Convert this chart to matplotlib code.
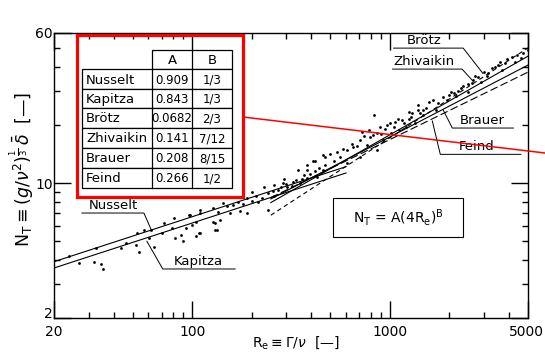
import matplotlib
matplotlib.use('Agg')
from matplotlib import pyplot as plt
from matplotlib.ticker import FixedLocator, NullFormatter
from matplotlib.patches import Rectangle
import matplotlib.transforms as mtransforms
import numpy as np

plt.rcParams['font.family'] = ['DejaVu Sans']
plt.rcParams['mathtext.fontset'] = 'dejavusans'

# correlations N_T = A (4 Re)^B
names = ['Nusselt', 'Kapitza', 'Brötz', 'Zhivaikin', 'Brauer', 'Feind']
coef_a = [0.909, 0.843, 0.0682, 0.141, 0.208, 0.266]
coef_b = [1/3, 1/3, 2/3, 7/12, 8/15, 1/2]
a_text = ['0.909', '0.843', '0.0682', '0.141', '0.208', '0.266']
b_text = ['1/3', '1/3', '2/3', '7/12', '8/15', '1/2']
re_start = [20, 20, 250, 250, 250, 250]
re_end = [600, 600, 5000, 5000, 5000, 5000]
styles = ['-', '-', (0, (4, 3)), '-', '-', (0, (7, 3))]

re_data = [23.8, 26.8, 32.6, 31.9, 34.6, 35.4, 43.6, 46.2, 52.0, 54, 52.6, 57, 60.4, 61.9,
           64, 72, 70, 78.9, 82, 87.5, 93, 96.7, 108, 110, 100, 81, 90, 105, 134, 130,
           97, 110, 127, 143, 127, 130, 139, 161, 190, 201, 216, 241, 230, 271, 289, 303,
           322, 352, 381, 410, 430, 461, 471, 381, 344, 241, 190, 135, 110, 105,
           150, 170, 180, 210, 225, 255, 260, 280, 300, 320, 335, 360, 370, 395, 420, 440,
           200, 175, 155, 260, 290,
           381, 420, 461, 471, 519, 561, 610, 610, 652, 707, 723, 765, 797, 860, 893, 925,
           968, 1010, 1061, 1116, 1155, 1204, 1283, 1335, 1395, 1474, 1520, 830, 707, 860,
           500, 540, 580, 640, 680, 740, 780, 820, 900, 950, 1000, 1050, 1100, 1180, 1250,
           1300, 1420, 1480,
           1248, 1395, 1580, 1720, 1860, 2100, 2280, 2480, 2640, 2800, 3000, 3300, 3540,
           3830, 4140, 4700, 5000, 2900, 2480, 1950, 3690, 4280, 3150,
           1650, 1750, 2000, 2200, 2350, 2600, 2700, 3100, 3400, 3600, 3900, 4400, 4600,
           2050, 2150]
nt_data = [4.19, 3.86, 4.61, 3.90, 3.81, 3.59, 4.61, 4.88, 4.78, 4.38, 5.52, 5.71, 5.20, 5.71,
           4.67, 6.21, 5.52, 5.85, 5.20, 5.39, 5.85, 6.83, 5.52, 7.24, 6.06, 6.57, 5.0, 5.3, 5.7, 6.2,
           6.83, 7.0, 7.43, 7.9, 6.3, 5.71, 6.43, 7.7, 8.36, 9.0, 7.97, 8.9, 9.56, 9.22, 10.0, 9.56,
           10.1, 10.0, 10.6, 13.1, 10.8, 11.7, 13.6, 12.4, 11.7, 7.24, 7.0, 7.1, 5.52, 6.3,
           7.6, 8.0, 7.8, 8.6, 8.4, 9.1, 8.6, 9.6, 9.9, 9.7, 10.4, 10.5, 11.0, 11.2, 11.5, 12.0,
           8.1, 7.2, 7.0, 9.8, 10.5,
           11.7, 13.1, 14.0, 12.4, 13.1, 13.6, 14.9, 12.7, 15.4, 16.7, 18.4, 15.7, 17.3, 18.2, 19.5, 16.7,
           20.0, 18.2, 20.7, 18.9, 21.2, 19.5, 22.0, 20.6, 24.0, 22.6, 24.6, 22.6, 13.6, 14.9,
           14.2, 14.5, 15.0, 16.0, 15.5, 17.5, 18.8, 17.8, 18.0, 19.0, 20.5, 19.5, 21.5, 20.6, 21.5,
           23.0, 23.2, 24.0,
           23.3, 25.3, 26.2, 24.0, 27.9, 29.2, 31.3, 32.8, 34.1, 35.5, 37.6, 39.4, 40.8,
           41.9, 45.0, 47.2, 48.8, 33.4, 29.7, 26.9, 38.5, 42.4, 37.2,
           27.0, 26.0, 28.5, 30.0, 32.0, 33.0, 36.0, 36.0, 40.0, 42.5, 44.0, 46.0, 44.5,
           29.8, 28.2]

x_ticks = [20, 100, 1000, 5000]
y_ticks = [2, 10, 60]

fig = plt.figure(figsize=(5.45, 3.58), dpi=100)
ax = fig.add_axes([54/545, 40/358, 474/545, 285/358])
ax.set_xscale('log')
ax.set_yscale('log')
ax.set_xlim(20, 5000)
ax.set_ylim(2, 60)

for a, b, r0, r1, ls in zip(coef_a, coef_b, re_start, re_end, styles):
    re = np.geomspace(r0, r1, 50)
    ax.plot(re, a * (4 * re) ** b, color='black', lw=0.8, ls=ls)

ax.scatter(re_data, nt_data, s=4, color='black', lw=0, zorder=3)

ax.xaxis.set_major_locator(FixedLocator(x_ticks))
ax.set_xticklabels([str(t) for t in x_ticks])
ax.xaxis.set_minor_locator(FixedLocator([30, 40, 50, 60, 70, 80, 90, 200, 300, 400, 500,
                                         600, 700, 800, 900, 2000, 3000, 4000]))
ax.xaxis.set_minor_formatter(NullFormatter())
ax.yaxis.set_major_locator(FixedLocator(y_ticks))
ax.set_yticklabels([str(t) for t in y_ticks])
ax.yaxis.set_minor_locator(FixedLocator([3, 4, 5, 6, 7, 8, 9, 20, 30, 40, 50]))
ax.yaxis.set_minor_formatter(NullFormatter())
ax.tick_params(which='both', direction='in', top=True, right=True, width=1)
ax.tick_params(which='major', length=12, labelsize=10)
ax.tick_params(which='minor', length=4)
ax.tick_params(axis='x', which='major', pad=5)
ax.tick_params(axis='y', which='major', pad=1)
for s in ax.spines.values():
    s.set_linewidth(1.0)

# nudge the corner labels like the original
lab2 = ax.get_yticklabels()[0]
lab2.set_transform(lab2.get_transform() + mtransforms.ScaledTranslation(0, 5/100, fig.dpi_scale_trans))
lab5k = ax.get_xticklabels()[-1]
lab5k.set_transform(lab5k.get_transform() + mtransforms.ScaledTranslation(-2/100, 0, fig.dpi_scale_trans))

ax.set_xlabel(r'$\mathrm{R_e} \equiv \Gamma/\nu$  [—]', fontsize=10, va='center')
ax.xaxis.set_label_coords(0.51, -0.088)
ax.set_ylabel(r'$\mathrm{N_T} \equiv (g/\nu^2)^{\frac{1}{3}}\,\bar{\delta}$  [—]', fontsize=12.5, va='center')
ax.yaxis.set_label_coords(-0.068, 0.52)

# curve labels with leader lines
def tag(text, tx, ty, line_x, line_y):
    ax.text(tx, ty, text, fontsize=9.5, ha='center', va='bottom')
    ax.plot(line_x, line_y, color='black', lw=0.7)

tag('Nusselt', 40, 7.1, [27.7, 57, 62], [7.0, 7.0, 5.75])
tag('Kapitza', 108, 3.65, [165, 71, 59], [3.59, 3.59, 5.0])
tag('Brötz', 1490, 50.8, [1044, 2350, 2960], [50.1, 50.1, 37.0])
tag('Zhivaikin', 1490, 39.6, [1032, 2320, 2620], [39.0, 39.0, 34.0])
tag('Brauer', 2950, 19.6, [4220, 2070, 1860], [19.3, 19.3, 24.0])
tag('Feind', 2750, 14.3, [4600, 1800, 1640], [14.1, 14.1, 21.0])

# overlay in pixel coordinates for the formula box, table and red marks
ov = fig.add_axes([0, 0, 1, 1], zorder=5)
ov.set_xlim(0, 545)
ov.set_ylim(358, 0)
ov.axis('off')
ov.patch.set_alpha(0)

ov.add_patch(Rectangle((333, 198), 130, 39, fc='white', ec='black', lw=0.8))
ov.text(398, 218, r'N$_\mathrm{T}$ = A(4R$_\mathrm{e}$)$^\mathrm{B}$', fontsize=10, ha='center', va='center')

col_x = [82, 152, 192, 232]
row_y = [50, 69, 89, 108, 128, 148, 168, 188]
ov.add_patch(Rectangle((col_x[1], row_y[0]), col_x[3] - col_x[1], row_y[1] - row_y[0],
                       fc='white', ec='black', lw=0.9))
ov.text((col_x[1] + col_x[2]) / 2, (row_y[0] + row_y[1]) / 2 + 1, 'A', fontsize=9.5, ha='center', va='center')
ov.text((col_x[2] + col_x[3]) / 2, (row_y[0] + row_y[1]) / 2 + 1, 'B', fontsize=9.5, ha='center', va='center')
ov.plot([col_x[2], col_x[2]], [row_y[0], row_y[1]], color='black', lw=0.9)
for i, (n, at, bt) in enumerate(zip(names, a_text, b_text)):
    y0, y1 = row_y[i + 1], row_y[i + 2]
    ov.add_patch(Rectangle((col_x[0], y0), col_x[3] - col_x[0], y1 - y0, fc='white', ec='black', lw=0.9))
    for cx in col_x[1:3]:
        ov.plot([cx, cx], [y0, y1], color='black', lw=0.9)
    yc = (y0 + y1) / 2 + 1
    ov.text(col_x[0] + 4, yc, n, fontsize=9.5, ha='left', va='center')
    ov.text((col_x[1] + col_x[2]) / 2, yc, at, fontsize=8.5, ha='center', va='center')
    ov.text((col_x[2] + col_x[3]) / 2, yc, bt, fontsize=8.5, ha='center', va='center')

ov.add_patch(Rectangle((77, 35), 166, 162, fc='none', ec='red', lw=2.3))
ov.plot([243, 545], [117, 153], color='red', lw=1.1)

plt.savefig('out.png', dpi=100)
